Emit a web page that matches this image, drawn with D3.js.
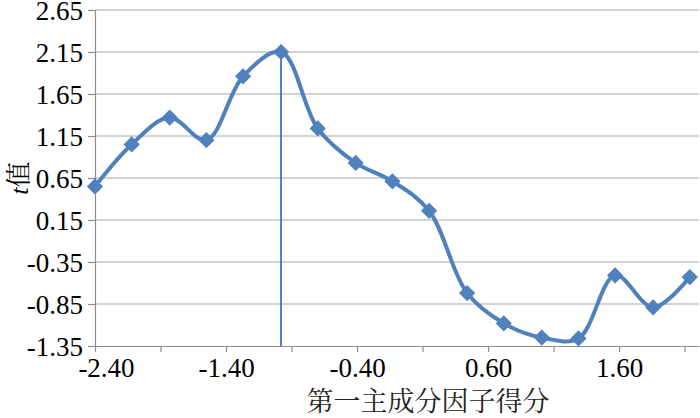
<!DOCTYPE html>
<html>
<head>
<meta charset="utf-8">
<script src="https://cdn.jsdelivr.net/npm/d3@7/dist/d3.min.js"></script>
<style>
  html, body { margin: 0; padding: 0; background: #fff; }
  svg { display: block; }
</style>
</head>
<body>
<svg id="chart" width="700" height="418"></svg>
<script>
// ---- data ----
const xValues = [-2.40, -2.12, -1.83, -1.55, -1.27, -0.98, -0.70, -0.41, -0.13, 0.15, 0.44, 0.72, 1.01, 1.29, 1.57, 1.86, 2.14];
const tValues = [0.55, 1.05, 1.37, 1.10, 1.86, 2.15, 1.24, 0.83, 0.61, 0.26, -0.72, -1.08, -1.25, -1.26, -0.51, -0.89, -0.53];
const markerX = -0.98;          // vertical reference line position
const xTickValues = [-2.4, -1.9, -1.4, -0.9, -0.4, 0.1, 0.6, 1.1, 1.6, 2.1];
const xTickLabels = ["-2.40", "", "-1.40", "", "-0.40", "", "0.60", "", "1.60", ""];
const yTickValues = [-1.35, -0.85, -0.35, 0.15, 0.65, 1.15, 1.65, 2.15, 2.65];
const yTickLabels = ["-1.35", "-0.85", "-0.35", "0.15", "0.65", "1.15", "1.65", "2.15", "2.65"];
const xTitle = "第一主成分因子得分";
const yTitleItalic = "t";
const yTitleRest = "值";

// ---- layout ----
const mLeft = 95, mRight = 699, mTop = 10, mBottom = 346;
const svg = d3.select("#chart");
const x = d3.scaleLinear().domain([-2.4, 2.21]).range([mLeft, mRight]);
const y = d3.scaleLinear().domain([-1.35, 2.65]).range([mBottom, mTop]);

const SERIF = "Liberation Serif";
const CJK = "Noto Serif CJK SC";
const gridColor = "#a6a6a6";
const axisColor = "#8c8c8c";
const blue = "#4f81bd";

// gridlines
svg.append("g").selectAll("line")
  .data(yTickValues.slice(1))
  .join("line")
  .attr("x1", mLeft).attr("x2", mRight)
  .attr("y1", d => y(d)).attr("y2", d => y(d))
  .attr("stroke", gridColor).attr("stroke-width", 1.2);

// y axis
const yAxis = d3.axisLeft(y).tickValues(yTickValues)
  .tickFormat((d, i) => yTickLabels[i]).tickSizeInner(7).tickSizeOuter(0).tickPadding(5);
const gy = svg.append("g").attr("transform", `translate(${mLeft},0)`).call(yAxis);
gy.attr("font-family", SERIF).attr("font-size", 27);
gy.select(".domain").attr("stroke", axisColor).attr("stroke-width", 1.2);
gy.selectAll(".tick line").attr("stroke", axisColor).attr("stroke-width", 1.2);
gy.selectAll(".tick text").style("font-family", SERIF).style("font-size", "27px").attr("fill", "#000")
  .attr("dy", "0.36em");

// x axis
const xAxis = d3.axisBottom(x).tickValues(xTickValues)
  .tickFormat((d, i) => xTickLabels[i]).tickSizeInner(6).tickSizeOuter(0).tickPadding(6);
const gx = svg.append("g").attr("transform", `translate(0,${mBottom})`).call(xAxis);
gx.attr("font-family", SERIF).attr("font-size", 27);
gx.select(".domain").attr("stroke", axisColor).attr("stroke-width", 1.2);
gx.selectAll(".tick line").attr("stroke", axisColor).attr("stroke-width", 1.2);
gx.selectAll(".tick text").style("font-family", SERIF).style("font-size", "27px").attr("fill", "#000")
  .attr("dx", (d, i) => i === 0 ? 11 : 0);

// vertical reference line
const peakIdx = xValues.indexOf(markerX);
svg.append("line")
  .attr("x1", x(markerX)).attr("x2", x(markerX))
  .attr("y1", y(tValues[peakIdx])).attr("y2", y(-1.35))
  .attr("stroke", "#4a7fc6").attr("stroke-width", 2);

// smoothed line
const pts = xValues.map((v, i) => [v, tValues[i]]);
const line = d3.line().x(d => x(d[0])).y(d => y(d[1])).curve(d3.curveCatmullRom.alpha(0.5));
svg.append("path").datum(pts)
  .attr("d", line).attr("fill", "none")
  .attr("stroke", blue).attr("stroke-width", 4).attr("stroke-linejoin", "round");

// diamond markers
const diamond = d3.symbol().type(d3.symbolSquare).size(110);
svg.append("g").selectAll("path")
  .data(pts).join("path")
  .attr("d", diamond)
  .attr("transform", d => `translate(${x(d[0])},${y(d[1])}) rotate(45)`)
  .attr("fill", blue).attr("stroke", blue).attr("stroke-width", 1);

// axis titles
svg.append("text")
  .attr("x", 428).attr("y", 411)
  .attr("text-anchor", "middle")
  .style("font-family", CJK).style("font-size", "27px").attr("fill", "#222")
  .text(xTitle);

const yt = svg.append("text")
  .attr("transform", `translate(28,${(mTop + mBottom) / 2}) rotate(-90)`)
  .attr("text-anchor", "middle")
  .style("font-size", "26px").attr("fill", "#000");
yt.append("tspan").style("font-family", SERIF).style("font-style", "italic").text(yTitleItalic);
yt.append("tspan").style("font-family", CJK).text(yTitleRest);
</script>
</body>
</html>
